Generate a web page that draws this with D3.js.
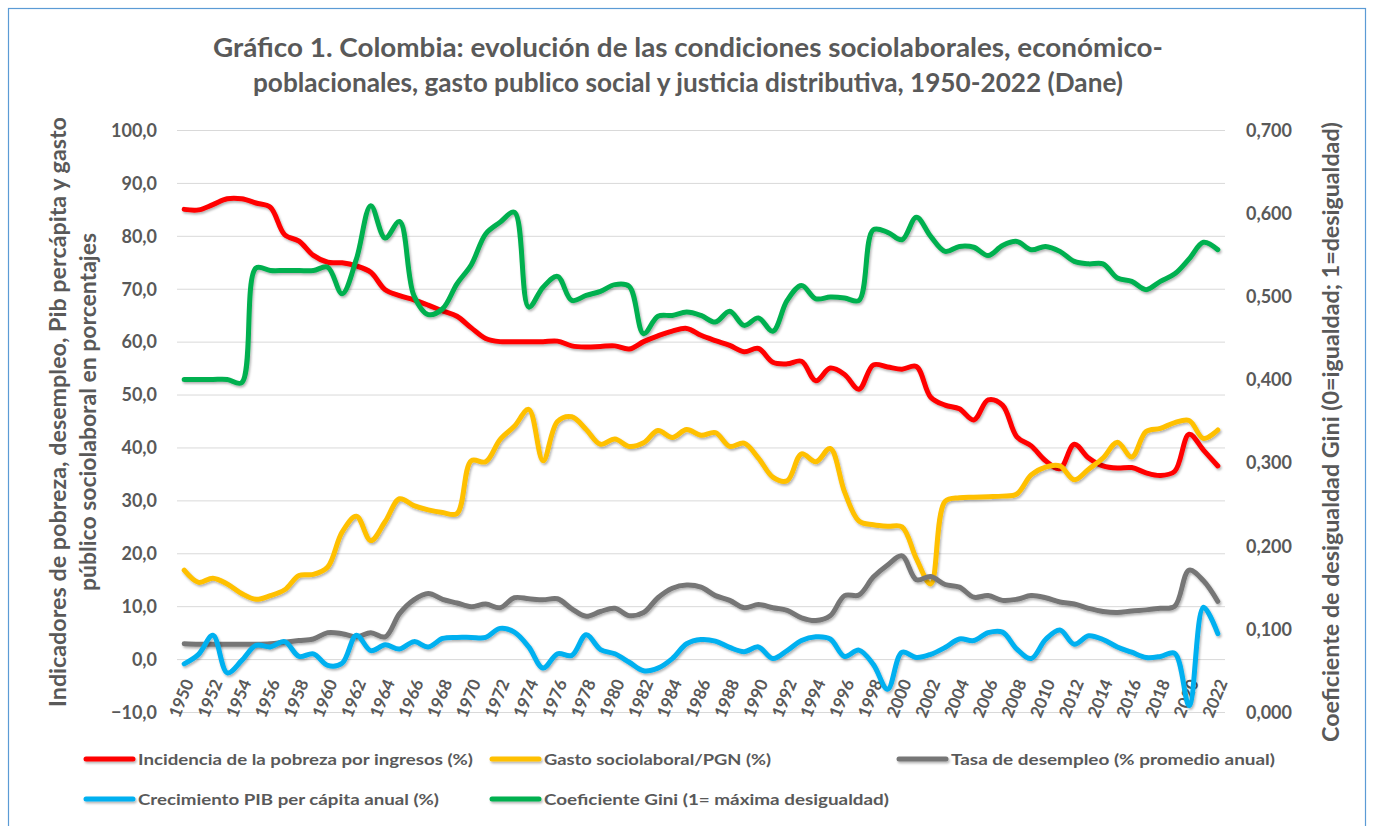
<!DOCTYPE html>
<html><head><meta charset="utf-8">
<script src="https://cdn.jsdelivr.net/npm/d3@7"></script>
<style>
html,body{margin:0;padding:0;background:#fff;}
svg{display:block;font-family:Lato,"Open Sans",sans-serif;}
</style></head>
<body>
<svg id="chart" width="1373" height="826"></svg>
<script>
const years = d3.range(1950, 2023);
const pobreza = [85.0,84.9,85.9,87.0,87.0,86.2,85.4,80.2,79.0,76.3,75.0,74.9,74.3,73.1,69.8,68.7,67.9,66.9,65.8,64.8,62.6,60.6,60.0,60.0,60.0,60.0,60.1,59.2,59.0,59.1,59.2,58.6,60.0,61.1,62.0,62.5,61.2,60.2,59.3,58.1,58.7,56.1,55.8,56.3,52.6,55.0,53.8,51.0,55.6,55.2,54.8,55.3,49.5,48.0,47.3,45.2,49.0,48.0,42.0,40.3,37.5,36.0,40.6,38.0,36.5,36.1,36.2,35.2,34.7,35.5,42.5,39.5,36.5];
const gasto = [16.8,14.5,15.3,14.2,12.4,11.3,12.0,13.1,15.8,16.0,17.4,24.0,27.0,22.4,26.0,30.3,29.0,28.2,27.7,27.5,37.5,37.3,41.5,44.0,47.2,37.5,44.9,45.8,43.4,40.6,41.6,40.2,40.9,43.2,41.9,43.4,42.3,42.8,40.2,40.8,38.0,34.4,33.7,38.8,37.3,39.8,31.6,26.1,25.4,25.1,25.0,19.0,14.2,29.8,30.5,30.6,30.7,30.8,31.2,34.8,36.3,36.5,33.9,35.9,38.0,41.0,38.2,43.0,43.6,44.7,45.1,41.7,43.3];
const desempleo = [2.9,2.8,2.8,2.8,2.8,2.8,2.9,3.2,3.5,3.8,5.0,4.8,4.2,5.0,4.2,8.6,11.2,12.4,11.3,10.6,9.9,10.4,9.7,11.6,11.4,11.2,11.4,9.5,8.1,9.0,9.6,8.2,8.8,11.6,13.4,14.0,13.6,12.0,11.1,9.7,10.3,9.7,9.2,7.8,7.3,8.2,12.0,12.1,15.5,17.8,19.5,15.0,15.6,14.1,13.6,11.7,12.0,11.1,11.3,12.0,11.6,10.8,10.4,9.6,9.0,8.8,9.1,9.3,9.6,10.0,16.8,14.8,10.9];
const pib = [-0.9,0.9,4.5,-2.6,-0.3,2.6,2.3,3.3,0.5,1.0,-1.2,-0.8,4.5,1.6,2.7,1.9,3.3,2.3,3.9,4.1,4.1,4.1,5.8,5.1,2.3,-1.7,1.0,0.7,4.6,1.8,1.0,-0.6,-2.2,-1.7,0.1,2.9,3.7,3.4,2.2,1.4,2.3,0.1,1.6,3.5,4.2,3.8,0.5,1.7,-1.0,-5.7,1.3,0.3,0.9,2.2,3.8,3.5,5.0,5.1,1.9,0.1,3.7,5.5,2.8,4.4,3.7,2.3,1.3,0.3,0.5,1.1,-8.8,9.8,4.8];
const gini = [0.400,0.400,0.400,0.400,0.396,0.534,0.531,0.531,0.531,0.531,0.535,0.503,0.545,0.609,0.570,0.590,0.501,0.478,0.485,0.515,0.538,0.575,0.589,0.601,0.487,0.511,0.524,0.495,0.501,0.506,0.514,0.512,0.455,0.476,0.477,0.481,0.477,0.469,0.482,0.465,0.474,0.458,0.495,0.513,0.497,0.499,0.498,0.495,0.580,0.577,0.568,0.595,0.572,0.554,0.560,0.559,0.549,0.561,0.566,0.556,0.560,0.554,0.542,0.539,0.539,0.522,0.518,0.508,0.518,0.527,0.545,0.565,0.556];
const leftTicks = [-10,0,10,20,30,40,50,60,70,80,90,100];
const rightTicks = [0,0.1,0.2,0.3,0.4,0.5,0.6,0.7];
const xTickYears = years.filter(y => (y - 1950) % 2 === 0);
const seriesNames = ["Incidencia de la pobreza por ingresos (%)","Gasto sociolaboral/PGN (%)","Tasa de desempleo (% promedio anual)","Crecimiento PIB per cápita anual (%)","Coeficiente  Gini (1= máxima desigualdad)"];
const titleLines = ["Gráfico 1. Colombia: evolución de las condiciones sociolaborales, económico-","poblacionales, gasto publico social y justicia distributiva, 1950-2022 (Dane)"];
const leftTitle = ["Indicadores de pobreza, desempleo, Pib percápita y gasto","público sociolaboral en porcentajes"];
const rightTitle = "Coeficiente de desigualdad Gini (0=igualdad; 1=desigualdad)";

const svg = d3.select("#chart");
const textCol = "#595959";
const colors = ["#FF0000","#FFC000","#767676","#00B0F0","#00B050"];

const defs = svg.append("defs");
const f = defs.append("filter").attr("id","sh").attr("filterUnits","userSpaceOnUse")
  .attr("x",0).attr("y",0).attr("width",1373).attr("height",826);
f.append("feDropShadow").attr("dx",1.2).attr("dy",1.8).attr("stdDeviation",1.2).attr("flood-color","#000").attr("flood-opacity",0.3);

// border
svg.append("rect").attr("x",8.5).attr("y",8.5).attr("width",1357).attr("height",830).attr("fill","none").attr("stroke","#5B9BD5").attr("stroke-width",1.2);

const L = 177, R = 1225, T = 130, B = 712;
const x = d3.scalePoint().domain(years).range([L, R]).padding(0.5);
const y = d3.scaleLinear().domain([-10,100]).range([B,T]);
const y2 = d3.scaleLinear().domain([0,0.7]).range([B,T]);

// gridlines
svg.append("g").selectAll("line").data(leftTicks).join("line")
  .attr("x1",L).attr("x2",R).attr("y1",d=>y(d)+0.5).attr("y2",d=>y(d)+0.5)
  .attr("stroke","#D9D9D9").attr("stroke-width",1);

// title
const titleW = [950, 870];
svg.append("g").selectAll("text").data(titleLines).join("text")
  .attr("x",688).attr("y",(d,i)=>57+i*35).attr("text-anchor","middle")
  .attr("textLength",(d,i)=>titleW[i]).attr("lengthAdjust","spacingAndGlyphs")
  .attr("font-size",26).attr("font-weight","bold").attr("fill",textCol).text(d=>d);

// left axis
const yAxis = d3.axisLeft(y).tickValues(leftTicks).tickSize(0).tickPadding(0)
  .tickFormat(d => d3.format(".1f")(d).replace(".",","));
const gy = svg.append("g").attr("transform",`translate(157,0)`).call(yAxis);
gy.select(".domain").remove();
gy.selectAll("text").attr("font-size",18).attr("font-weight","bold").attr("fill",textCol).attr("font-family","Lato").attr("dy","0.35em");

// right axis
const yAxis2 = d3.axisRight(y2).tickValues(rightTicks).tickSize(0).tickPadding(0)
  .tickFormat(d => d3.format(".3f")(d).replace(".",","));
const gy2 = svg.append("g").attr("transform",`translate(1246,0)`).call(yAxis2);
gy2.select(".domain").remove();
gy2.selectAll("text").attr("font-size",18).attr("font-weight","bold").attr("fill",textCol).attr("font-family","Lato").attr("dy","0.35em");

// x axis labels
const xAxis = d3.axisBottom(x).tickValues(xTickYears).tickSize(0).tickPadding(0);
const gx = svg.append("g").attr("transform",`translate(0,${B})`).call(xAxis);
gx.select(".domain").remove();
gx.selectAll("text").attr("font-size",17).attr("font-weight","bold").attr("fill",textCol).attr("font-family","Lato")
  .attr("text-anchor","end").attr("dy","0.35em").attr("y",0)
  .attr("transform","translate(4,-32) rotate(-68)");

// axis titles
const leftW = [590, 358];
svg.append("g").selectAll("text").data(leftTitle).join("text")
  .attr("transform",(d,i)=>`translate(${66+i*30},412) rotate(-90)`)
  .attr("text-anchor","middle").attr("textLength",(d,i)=>leftW[i]).attr("lengthAdjust","spacingAndGlyphs")
  .attr("font-size",22).attr("font-weight","bold").attr("fill",textCol).text(d=>d);
svg.append("text").attr("transform","translate(1339,432) rotate(-90)")
  .attr("text-anchor","middle").attr("textLength",620).attr("lengthAdjust","spacingAndGlyphs")
  .attr("font-size",22).attr("font-weight","bold").attr("fill",textCol).text(rightTitle);

// lines
const mk = (sc) => d3.line().x((d,i)=>x(years[i])).y(d=>sc(d)).curve(d3.curveCatmullRom.alpha(0.5));
const series = [
  {data:pobreza, sc:y},{data:gasto, sc:y},{data:desempleo, sc:y},{data:pib, sc:y},{data:gini, sc:y2}
];
const gl = svg.append("g");
series.forEach((s,k)=>{
  gl.append("path").attr("d",mk(s.sc)(s.data)).attr("fill","none").attr("stroke",colors[k])
    .attr("stroke-width",5).attr("stroke-linecap","round").attr("stroke-linejoin","round").attr("filter","url(#sh)");
});

// legend
const legPos = [[83,759],[489,759],[896,759],[83,799],[489,799]];
const legW = [335, 227, 324, 301, 345];
const lg = svg.append("g");
seriesNames.forEach((n,k)=>{
  const [lx,ly] = legPos[k];
  lg.append("line").attr("x1",lx+3).attr("x2",lx+50).attr("y1",ly).attr("y2",ly)
    .attr("stroke",colors[k]).attr("stroke-width",5).attr("stroke-linecap","round").attr("filter","url(#sh)");
  lg.append("text").attr("x",lx+55).attr("y",ly).attr("dy","0.35em").attr("font-size",16).attr("font-weight","bold")
    .attr("textLength",legW[k]).attr("lengthAdjust","spacingAndGlyphs").attr("fill",textCol).text(n);
});
</script>
</body></html>
